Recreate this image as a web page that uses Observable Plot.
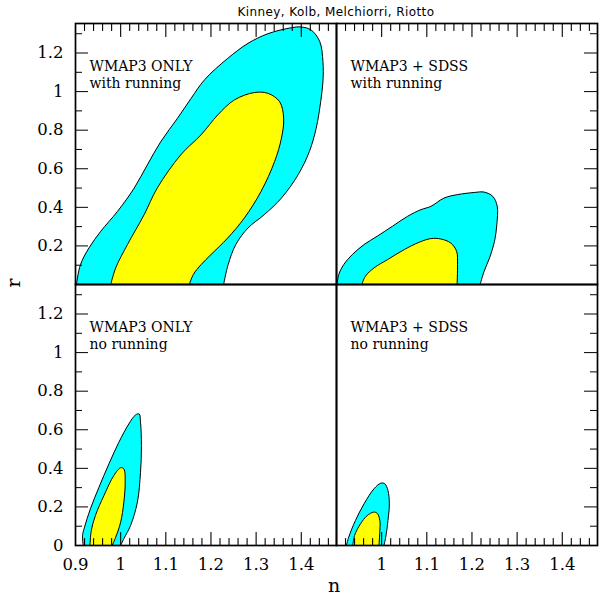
<!DOCTYPE html>
<html><head><meta charset="utf-8">
<script src="https://cdn.jsdelivr.net/npm/d3@7"></script>
<script src="https://cdn.jsdelivr.net/npm/@observablehq/plot@0.6"></script>
<style>
body{margin:0;background:#fff;}
#wrap{position:relative;width:599px;height:597px;overflow:hidden;background:#fff;}
.lbl{position:absolute;white-space:nowrap;color:#000;line-height:1;z-index:2;}
#title{left:0;width:672px;top:5px;text-align:center;font:12px "DejaVu Sans";letter-spacing:0.4px;}
#ylab{left:13px;top:283px;font:19px "DejaVu Serif";transform:translate(-50%,-50%) rotate(-90deg);}
#xlab{left:334px;top:574px;font:19px "DejaVu Serif";transform:translateX(-50%);}
</style></head><body>
<div id="wrap">
  <div id="title" class="lbl">Kinney, Kolb, Melchiorri, Riotto</div>
  <div id="ylab" class="lbl">r</div>
  <div id="xlab" class="lbl">n</div>
</div>
<script>
// ---- data ----
const nDomain = [0.9, 1.478];
const rDomain = [0, 1.353];
const datasets = ["WMAP3 ONLY", "WMAP3 + SDSS"];
const runningCases = ["with running", "no running"];
const nTickLabelsLeft = [0.9, 1, 1.1, 1.2, 1.3, 1.4];
const nTickLabelsRight = [1, 1.1, 1.2, 1.3, 1.4];
const rTickLabelsTop = [0.2, 0.4, 0.6, 0.8, 1, 1.2];
const rTickLabelsBottom = [0, 0.2, 0.4, 0.6, 0.8, 1, 1.2];
const nMajor = [1, 1.1, 1.2, 1.3, 1.4];
const nMinor = [0.92, 0.94, 0.96, 0.98, 1.02, 1.04, 1.06, 1.08, 1.12, 1.14, 1.16, 1.18, 1.22, 1.24, 1.26, 1.28, 1.32, 1.34, 1.36, 1.38, 1.42, 1.44, 1.46];
const rMajor = [0.2, 0.4, 0.6, 0.8, 1, 1.2];
const rMinor = [0.1, 0.3, 0.5, 0.7, 0.9, 1.1, 1.3];

// contours [n, r]: outer (95%) and inner (68%)
const wmapRun95 = [[0.902,0],[0.911,0.103],[0.930,0.19],[0.956,0.276],[0.993,0.379],[1.030,0.5],[1.059,0.62],[1.089,0.741],[1.126,0.862],[1.156,0.965],[1.186,1.062],[1.237,1.172],[1.282,1.25],[1.326,1.30],[1.378,1.331],[1.4,1.335],[1.422,1.319],[1.441,1.259],[1.448,1.155],[1.448,1.052],[1.443,0.948],[1.433,0.81],[1.418,0.69],[1.393,0.569],[1.356,0.448],[1.318,0.362],[1.282,0.293],[1.255,0.207],[1.238,0.103],[1.228,0]];
const wmapRun68 = [[0.978,0],[0.989,0.086],[1.015,0.207],[1.052,0.362],[1.081,0.5],[1.133,0.672],[1.178,0.776],[1.215,0.879],[1.252,0.957],[1.296,0.995],[1.326,0.991],[1.352,0.948],[1.361,0.862],[1.356,0.758],[1.341,0.638],[1.311,0.483],[1.274,0.345],[1.237,0.241],[1.2,0.155],[1.178,0.103],[1.161,0.052],[1.152,0]];
const sdssRun95 = [[0.9015,0],[0.905,0.052],[0.916,0.103],[0.935,0.155],[0.961,0.207],[0.990,0.25],[1.024,0.302],[1.057,0.353],[1.087,0.388],[1.109,0.405],[1.138,0.448],[1.168,0.466],[1.205,0.477],[1.227,0.479],[1.246,0.457],[1.256,0.405],[1.255,0.31],[1.250,0.224],[1.239,0.138],[1.227,0.069],[1.218,0]];
const sdssRun68 = [[0.956,0],[0.964,0.043],[0.983,0.086],[1.013,0.129],[1.050,0.181],[1.083,0.219],[1.109,0.238],[1.131,0.236],[1.153,0.215],[1.166,0.172],[1.168,0.103],[1.167,0]];
const wmapNoRun95 = [[0.917,0],[0.9156,0.052],[0.920,0.095],[0.933,0.19],[0.952,0.302],[0.974,0.423],[0.996,0.535],[1.018,0.63],[1.033,0.677],[1.041,0.682],[1.044,0.639],[1.046,0.518],[1.044,0.38],[1.037,0.224],[1.022,0.104],[1.007,0.035],[1.0,0]];
const wmapNoRun68 = [[0.932,0],[0.935,0.078],[0.944,0.155],[0.963,0.259],[0.985,0.363],[1.0,0.403],[1.007,0.397],[1.010,0.328],[1.007,0.224],[1.0,0.121],[0.989,0.043],[0.981,0]];
const sdssNoRun95 = [[0.922,0],[0.927,0.043],[0.942,0.13],[0.961,0.216],[0.983,0.294],[0.998,0.323],[1.007,0.32],[1.014,0.285],[1.017,0.216],[1.014,0.13],[1.009,0.043],[1.005,0]];
const sdssNoRun68 = [[0.936,0],[0.940,0.052],[0.953,0.112],[0.968,0.155],[0.982,0.173],[0.990,0.167],[0.996,0.13],[0.996,0.078],[0.994,0]];

const outerColor = "#00ffff", innerColor = "#ffff00";

// ---- layout ----
const W = 599, H = 597, ML = 75, MR = 2, MT = 22, MB = 52;
const FW = (W - ML - MR) / 2, FH = (H - MT - MB) / 2;
const MAJOR = 13, MINOR = 7;
const font = "DejaVu Serif";
const fac = {fx: "ds", fy: "run"};
const rPerPx = (rDomain[1] - rDomain[0]) / FH;

// ---- tables built from the arrays above ----
const contourSets = [
  {ds: datasets[0], run: runningCases[0], outer: wmapRun95, inner: wmapRun68},
  {ds: datasets[1], run: runningCases[0], outer: sdssRun95, inner: sdssRun68},
  {ds: datasets[0], run: runningCases[1], outer: wmapNoRun95, inner: wmapNoRun68},
  {ds: datasets[1], run: runningCases[1], outer: sdssNoRun95, inner: sdssNoRun68}
];
const toRows = (key) => contourSets.flatMap(c => c[key].map(([n, r]) => ({n, r, ds: c.ds, run: c.run, id: c.ds + "|" + c.run})));
const outerRows = toRows("outer");
const innerRows = toRows("inner");
const titleRows = contourSets.map(c => ({ds: c.ds, run: c.run, label: c.ds + "\n" + c.run}));

const cross = (vals, dss, runs) => dss.flatMap(ds => runs.flatMap(run => vals.map(v => ({v, ds, run}))));
// vertical ticks as two-point line segments hanging inward from the top / bottom edges
const vTickRows = (vals, run, len) => datasets.flatMap(ds => vals.flatMap(v => {
  const edge = run === runningCases[0] ? rDomain[1] : rDomain[0];
  const dir = run === runningCases[0] ? -1 : 1;
  const id = `${ds}|${run}|${v}|${len}`;
  return [{n: v, r: edge, ds, run, id}, {n: v, r: edge + dir * len * rPerPx, ds, run, id}];
}));
const xTickRows = [
  ...vTickRows(nMinor, runningCases[0], MINOR), ...vTickRows(nMajor, runningCases[0], MAJOR),
  ...vTickRows(nMinor, runningCases[1], MINOR), ...vTickRows(nMajor, runningCases[1], MAJOR)
];
const leftMinor = cross(rMinor, [datasets[0]], runningCases), leftMajor = cross(rMajor, [datasets[0]], runningCases);
const rightMinor = cross(rMinor, [datasets[1]], runningCases), rightMajor = cross(rMajor, [datasets[1]], runningCases);
const xLabelRows = [
  ...nTickLabelsLeft.map(v => ({v, ds: datasets[0], run: runningCases[1]})),
  ...nTickLabelsRight.map(v => ({v, ds: datasets[1], run: runningCases[1]}))
];
const yLabelRows = [
  ...rTickLabelsTop.map(v => ({v, ds: datasets[0], run: runningCases[0]})),
  ...rTickLabelsBottom.map(v => ({v, ds: datasets[0], run: runningCases[1]}))
];

const svg = Plot.plot({
  width: W, height: H,
  marginLeft: ML, marginRight: MR, marginTop: MT, marginBottom: MB,
  x: {domain: nDomain, axis: null},
  y: {domain: rDomain, axis: null},
  fx: {domain: datasets, padding: 0, axis: null},
  fy: {domain: runningCases, padding: 0, axis: null},
  style: {fontFamily: font},
  marks: [
    Plot.line(outerRows, {x: "n", y: "r", z: "id", ...fac, fill: outerColor, stroke: "black", strokeWidth: 1, curve: "catmull-rom"}),
    Plot.line(innerRows, {x: "n", y: "r", z: "id", ...fac, fill: innerColor, stroke: "black", strokeWidth: 1, curve: "catmull-rom"}),
    Plot.text(titleRows, {...fac, text: "label", frameAnchor: "top-left", dx: 14, dy: 35, lineAnchor: "top", textAnchor: "start", fontSize: 14, lineHeight: 1.22, fontFamily: font}),
    // inward ticks on the outer edges
    Plot.line(xTickRows, {x: "n", y: "r", z: "id", ...fac, stroke: "black", strokeWidth: 1.1}),
    Plot.tickY(leftMinor, {y: "v", ...fac, stroke: "black", insetRight: FW - MINOR}),
    Plot.tickY(leftMajor, {y: "v", ...fac, stroke: "black", insetRight: FW - MAJOR}),
    Plot.tickY(rightMinor, {y: "v", ...fac, stroke: "black", insetLeft: FW - MINOR}),
    Plot.tickY(rightMajor, {y: "v", ...fac, stroke: "black", insetLeft: FW - MAJOR}),
    // tick labels
    Plot.text(xLabelRows, {x: "v", ...fac, text: d => `${d.v}`, frameAnchor: "bottom", dy: 13, lineAnchor: "top", fontSize: 16.5, fontFamily: font, fill: "black"}),
    Plot.text(yLabelRows, {y: "v", ...fac, text: d => `${d.v}`, frameAnchor: "left", dx: -12, textAnchor: "end", fontSize: 16.5, fontFamily: font, fill: "black"}),
    Plot.frame({stroke: "black", strokeWidth: 1.7})
  ]
});
document.getElementById("wrap").appendChild(svg);
</script>
</body></html>
